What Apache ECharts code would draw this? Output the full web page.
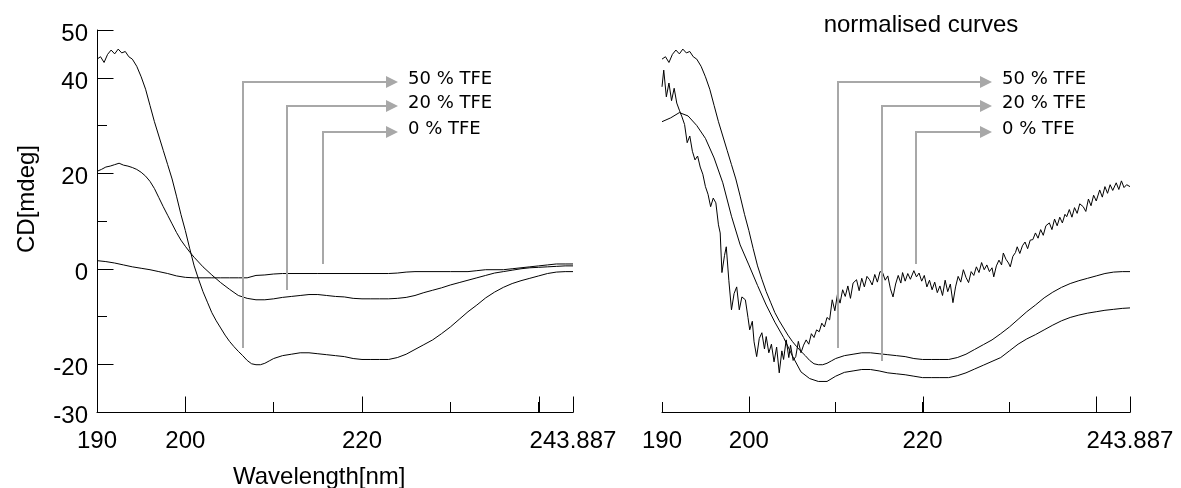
<!DOCTYPE html>
<html>
<head>
<meta charset="utf-8">
<script src="https://cdn.jsdelivr.net/npm/echarts@6/dist/echarts.min.js"></script>
<style>
html,body{margin:0;padding:0;background:#fff;}
#chart{width:1181px;height:488px;}
</style>
</head>
<body>
<div id="chart"></div>
<script>
// ---------- data (wavelength [nm], CD [mdeg]) ----------
const seriesNames = ['50 % TFE', '20 % TFE', '0 % TFE'];

const cd50 = [[190,43.9],[190.4,44.4],[190.8,43.2],[191.2,44.9],[191.6,45.8],[192,45.0],[192.4,46.0],[192.8,45.2],[193.2,45.5],[193.6,44.4],[194,43.9],[194.5,42.4],[195,40.2],[195.5,37.6],[196,34.2],[196.5,30.8],[197,27.8],[197.5,24.8],[198,21.8],[198.5,18.8],[199,15.2],[199.5,11.4],[200,8.0],[200.5,4.2],[201,0.6],[201.5,-2.2],[202,-4.8],[202.5,-7.0],[203,-9.2],[203.5,-10.9],[204,-12.4],[204.5,-13.9],[205,-15.2],[205.5,-16.3],[206,-17.3],[206.5,-18.2],[207,-19.2],[207.5,-19.9],[208,-20.1],[208.5,-20.1],[209,-19.8],[209.5,-19.3],[210,-18.8],[211,-18.2],[212,-17.9],[213,-17.6],[214,-17.6],[215,-17.8],[216,-18.0],[217,-18.2],[218,-18.4],[219,-18.8],[220,-19.0],[221,-19.0],[222,-19.0],[223,-19.0],[224,-18.6],[225,-17.9],[226,-16.9],[227,-15.9],[228,-14.9],[229,-13.6],[230,-12.2],[231,-10.6],[232,-9.0],[233,-7.6],[234,-6.1],[235,-4.9],[236,-3.9],[237,-3.1],[238,-2.5],[239,-2.0],[240,-1.5],[241,-1.0],[242,-0.7],[243,-0.6],[243.887,-0.6]];

const cd20 = [[190,20.4],[190.5,20.8],[191,21.3],[191.5,21.5],[192,21.8],[192.5,22.1],[193,21.7],[193.5,21.5],[194,21.2],[194.5,20.8],[195,20.2],[195.5,19.4],[196,18.3],[196.5,16.8],[197,14.9],[197.5,13.0],[198,11.2],[198.5,9.4],[199,7.6],[199.5,6.0],[200,4.7],[200.5,3.5],[201,2.4],[202,0.4],[203,-1.3],[204,-2.9],[205,-4.3],[206,-5.6],[207,-6.2],[208,-6.5],[209,-6.5],[210,-6.3],[211,-6.0],[212,-5.8],[213,-5.6],[214,-5.4],[215,-5.4],[216,-5.6],[217,-5.8],[218,-5.9],[219,-6.2],[220,-6.3],[221,-6.3],[222,-6.3],[223,-6.3],[224,-6.2],[225,-6.0],[226,-5.6],[227,-5.0],[228,-4.5],[229,-4.0],[230,-3.4],[231,-2.9],[232,-2.4],[233,-1.9],[234,-1.4],[235,-0.9],[236,-0.6],[237,-0.3],[238,0.0],[239,0.2],[240,0.3],[241,0.4],[242,0.5],[243,0.6],[243.887,0.6]];

const cd0 = [[190,1.7],[191,1.5],[192,1.2],[193,0.8],[194,0.4],[195,0.1],[196,-0.2],[197,-0.6],[198,-1.0],[199,-1.5],[200,-1.8],[201,-1.9],[202,-1.9],[203,-1.9],[204,-1.9],[205,-1.9],[206,-1.9],[207,-1.9],[208,-1.4],[209,-1.3],[210,-1.1],[211,-1.0],[215,-1.0],[220,-1.0],[223,-1.0],[224,-0.9],[225,-0.7],[226,-0.6],[230,-0.6],[232,-0.6],[233,-0.4],[234,-0.2],[236,-0.2],[237,0.0],[238,0.2],[239,0.4],[240,0.6],[241,0.8],[242,1.0],[243,1.0],[243.887,1.0]];

// normalised curves (right panel)
const norm50 = cd50;

const norm20 = [[190,30.8],[191,31.6],[192,32.7],[193,32.0],[194,30.0],[195,27.3],[196,23.2],[197,18.0],[198,11.0],[199,5.0],[200,0.8],[201,-3.5],[202,-7.6],[203,-11.2],[204,-14.4],[205,-18.2],[206,-21.6],[207,-23.0],[208,-23.6],[209,-23.6],[210,-22.5],[211,-21.7],[212,-21.4],[213,-21.1],[214,-21.1],[215,-21.4],[216,-21.8],[217,-22.0],[218,-22.2],[219,-22.5],[220,-22.8],[221,-22.8],[222,-22.8],[223,-22.8],[224,-22.4],[225,-21.8],[226,-21.0],[227,-20.2],[228,-19.4],[229,-18.6],[230,-17.2],[231,-15.8],[232,-14.7],[233,-13.8],[234,-12.8],[235,-11.8],[236,-10.9],[237,-10.2],[238,-9.7],[239,-9.3],[240,-9.0],[241,-8.7],[242,-8.5],[243,-8.3],[243.887,-8.2]];

const norm0 = [[190.0,38.1],[190.2,41.6],[190.5,36.0],[190.8,38.9],[191.1,35.2],[191.4,37.8],[191.7,34.7],[192.0,33.2],[192.3,31.8],[192.6,30.2],[192.9,26.4],[193.2,27.8],[193.5,24.6],[193.8,22.8],[194.1,23.6],[194.4,21.3],[194.7,19.8],[195.0,17.2],[195.3,15.6],[195.6,13.0],[195.9,14.8],[196.2,13.8],[196.5,9.2],[196.7,7.5],[196.9,-0.8],[197.2,2.8],[197.4,4.6],[197.7,-2.5],[198.0,-8.6],[198.3,-5.2],[198.6,-3.8],[198.9,-8.6],[199.2,-5.9],[199.6,-6.5],[199.9,-10.2],[200.1,-12.8],[200.4,-11.0],[200.6,-15.3],[200.9,-18.4],[201.2,-14.6],[201.5,-13.4],[201.8,-16.8],[202.0,-14.2],[202.3,-17.6],[202.6,-15.8],[202.9,-19.5],[203.2,-16.4],[203.5,-21.8],[203.8,-17.2],[204.0,-19.0],[204.3,-14.9],[204.6,-18.6],[204.8,-16.0],[205.1,-19.2],[205.4,-18.4],[205.7,-15.2],[206.0,-17.6],[206.3,-16.0],[206.6,-14.9],[206.9,-15.8],[207.2,-13.6],[207.5,-14.4],[207.8,-12.8],[208.1,-13.2],[208.4,-11.4],[208.7,-12.2],[209.0,-10.2],[209.3,-10.7],[209.6,-6.5],[209.9,-8.8],[210.2,-5.4],[210.5,-7.2],[210.8,-4.4],[211.1,-5.8],[211.4,-3.6],[211.7,-6.2],[212.0,-3.0],[212.4,-2.3],[212.7,-4.6],[213.0,-2.0],[213.3,-3.8],[213.6,-1.6],[213.9,-2.3],[214.2,-3.4],[214.5,-1.2],[214.8,-2.8],[215.1,-0.6],[215.4,-0.8],[215.7,-2.4],[216.0,-1.5],[216.3,-4.2],[216.6,-5.9],[216.9,-3.2],[217.2,-1.4],[217.5,-3.0],[217.7,-0.8],[218.0,-2.6],[218.3,-1.0],[218.6,-2.2],[219.0,-0.4],[219.3,-1.7],[219.6,-0.9],[219.9,-2.6],[220.2,-1.4],[220.5,-3.8],[220.8,-2.4],[221.1,-4.4],[221.4,-2.8],[221.7,-5.0],[222.0,-3.6],[222.3,-5.6],[222.6,-2.4],[222.9,-4.8],[223.2,-3.2],[223.5,-7.1],[223.8,-3.8],[224.1,-1.6],[224.4,-2.8],[224.7,-0.2],[225.0,-1.8],[225.3,-2.9],[225.6,-0.6],[225.9,-1.4],[226.2,0.4],[226.5,-0.8],[226.8,1.3],[227.1,-0.2],[227.4,0.8],[227.7,-0.6],[228.0,0.2],[228.2,-1.7],[228.5,0.6],[228.8,1.8],[229.1,0.8],[229.3,3.3],[229.6,2.0],[229.9,1.2],[230.1,0.4],[230.4,2.6],[230.7,3.4],[230.9,4.6],[231.2,3.2],[231.5,4.8],[231.8,5.6],[232.1,4.2],[232.4,6.0],[232.7,6.1],[233.0,7.5],[233.3,6.4],[233.6,8.2],[233.9,7.0],[234.2,9.0],[234.6,9.6],[234.9,8.2],[235.2,10.4],[235.5,9.0],[235.8,10.8],[236.1,9.6],[236.4,11.4],[236.6,10.9],[236.9,12.4],[237.2,10.8],[237.5,12.8],[237.8,11.6],[238.1,13.6],[238.5,13.0],[238.8,12.0],[239.1,14.6],[239.4,13.2],[239.7,15.4],[240.0,14.2],[240.4,16.5],[240.7,15.0],[241.0,17.2],[241.3,15.8],[241.6,17.6],[241.9,16.4],[242.3,18.0],[242.6,16.6],[242.9,18.4],[243.2,17.0],[243.5,17.6],[243.887,17.2]];

// axis ticks / labels
const X_MIN = 190, X_MAX = 243.887, X_STEP = 10;
const Y_MIN = -30, Y_MAX = 50, Y_STEP = 10;
const xLabelValues = [190, 200, 220, 243.887];
const yLabelValues = [50, 40, 20, 0, -20, -30];
const xMajorTicks = [200, 220, 240, 243.887];
const yMajorTicks = [50, 40, 20, 0, -20];

// callout annotations (x of vertical line, top, bottom) per panel
const leftCallX = [206.5, 211.5, 215.6];
const rightCallX = [210.3, 215.3, 219.3];
const callTop = [39.1, 34.1, 28.7];
const leftCallBottom = [-16.5, -4.4, 1.0];
const rightCallBottom = [-16.5, -19.4, 1.0];
const leftTipX = 224.1;
const rightTipX = 228.0;

const titleText = 'normalised curves';
const xName = 'Wavelength[nm]';
const yName = 'CD[mdeg]';

// ---------- chart ----------
const AX_FONT = "'Liberation Sans', Arial, sans-serif";
const NOTE_FONT = "'DejaVu Sans', Verdana, sans-serif";
const GRAY = '#a8a8a8';

function near(list, v) { return list.some(t => Math.abs(t - v) < 1e-6); }

function xAxisDef(i) {
  return {
    type: 'value', gridIndex: i, min: X_MIN, max: X_MAX, interval: X_STEP,
    axisLine: { show: true, onZero: false, lineStyle: { color: '#000', width: 1 } },
    axisTick: { show: true, inside: true, length: 10, lineStyle: { color: '#000', width: 1 } },
    axisLabel: {
      show: true, showMinLabel: true, showMaxLabel: true,
      formatter: v => near(xLabelValues, v) ? String(v) : '',
      color: '#000', fontSize: 24, fontFamily: AX_FONT, margin: 17
    },
    splitLine: { show: false }
  };
}

function lineSeries(data, xi) {
  return {
    type: 'line', data: data, xAxisIndex: xi, yAxisIndex: xi,
    showSymbol: false, symbol: 'none', silent: true,
    lineStyle: { color: '#000', width: 1 }, animation: false, z: 3
  };
}

function tickSeries(xi, withY) {
  const d = xMajorTicks.map(v => [v, Y_MIN, 0]);
  if (withY) yMajorTicks.forEach(v => d.push([X_MIN, v, 1]));
  return {
    type: 'custom', xAxisIndex: xi, yAxisIndex: xi, silent: true, animation: false,
    clip: false, z: 5,
    data: d,
    renderItem: function (params, api) {
      const p = api.coord([api.value(0), api.value(1)]);
      const x = Math.round(p[0]) + 0.5, y = Math.round(p[1]) + 0.5;
      const dir = api.value(2);
      const shape = dir === 0 ? { x1: x, y1: y, x2: x, y2: y - 16 } : { x1: x, y1: y, x2: x + 16, y2: y };
      return { type: 'line', shape: shape, style: { stroke: '#000', lineWidth: 1 } };
    }
  };
}

function calloutSeries(xi, xs, bottoms, tipX) {
  const d = xs.map((x, i) => [x, callTop[i], bottoms[i], tipX, i]);
  return {
    type: 'custom', xAxisIndex: xi, yAxisIndex: xi, silent: true, animation: false,
    clip: false, z: 4,
    data: d,
    renderItem: function (params, api) {
      const top = api.coord([api.value(0), api.value(1)]);
      const bot = api.coord([api.value(0), api.value(2)]);
      const tip = api.coord([api.value(3), api.value(1)]);
      const x = Math.round(top[0]);
      const yt = Math.round(top[1]);
      const yb = Math.round(bot[1]);
      const tx = Math.round(tip[0]);
      const head = 12, half = 6;
      return {
        type: 'group',
        children: [
          { type: 'polyline', shape: { points: [[x, yb], [x, yt], [tx - head, yt]] },
            style: { stroke: GRAY, lineWidth: 2, fill: null } },
          { type: 'polygon', shape: { points: [[tx - head, yt - half], [tx, yt], [tx - head, yt + half]] },
            style: { fill: GRAY, stroke: null } },
          { type: 'text', x: tx + 10, y: yt - 3,
            style: { text: seriesNames[api.value(4)], fill: '#000', font: '18px ' + NOTE_FONT,
                     textAlign: 'left', textVerticalAlign: 'middle' } }
        ]
      };
    }
  };
}

const chart = echarts.init(document.getElementById('chart'), null, { renderer: 'canvas' });
chart.setOption({
  animation: false,
  backgroundColor: '#fff',
  grid: [
    { left: 97, top: 30, width: 476, height: 382 },
    { left: 662, top: 30, width: 468, height: 382 }
  ],
  xAxis: [xAxisDef(0), xAxisDef(1)],
  yAxis: [
    {
      type: 'value', gridIndex: 0, min: Y_MIN, max: Y_MAX, interval: Y_STEP,
      axisLine: { show: true, onZero: false, lineStyle: { color: '#000', width: 1 } },
      axisTick: { show: true, inside: true, length: 10, lineStyle: { color: '#000', width: 1 } },
      axisLabel: {
        show: true, showMinLabel: true, showMaxLabel: true,
        formatter: v => near(yLabelValues, v) ? '{a|' + v + '}' : '',
        color: '#000', fontSize: 24, fontFamily: AX_FONT, margin: 9,
        rich: { a: { fontSize: 24, fontFamily: AX_FONT, color: '#000', padding: [9, 0, 0, 0] } }
      },
      splitLine: { show: false }
    },
    { type: 'value', gridIndex: 1, min: Y_MIN, max: Y_MAX, show: false, splitLine: { show: false } }
  ],
  graphic: [
    { type: 'text', x: 921, y: 25, style: { text: titleText, font: '24px ' + AX_FONT, fill: '#000', textAlign: 'center', textVerticalAlign: 'middle' } },
    { type: 'text', x: 233, y: 477, style: { text: xName, font: '24px ' + AX_FONT, fill: '#000', textAlign: 'left', textVerticalAlign: 'middle' } },
    { type: 'text', x: 27, y: 199, rotation: Math.PI / 2, style: { text: yName, font: '24px ' + AX_FONT, fill: '#000', textAlign: 'center', textVerticalAlign: 'middle' } }
  ],
  series: [
    lineSeries(cd50, 0), lineSeries(cd20, 0), lineSeries(cd0, 0),
    lineSeries(norm50, 1), lineSeries(norm20, 1), lineSeries(norm0, 1),
    tickSeries(0, true), tickSeries(1, false),
    calloutSeries(0, leftCallX, leftCallBottom, leftTipX),
    calloutSeries(1, rightCallX, rightCallBottom, rightTipX)
  ]
});
</script>
</body>
</html>
